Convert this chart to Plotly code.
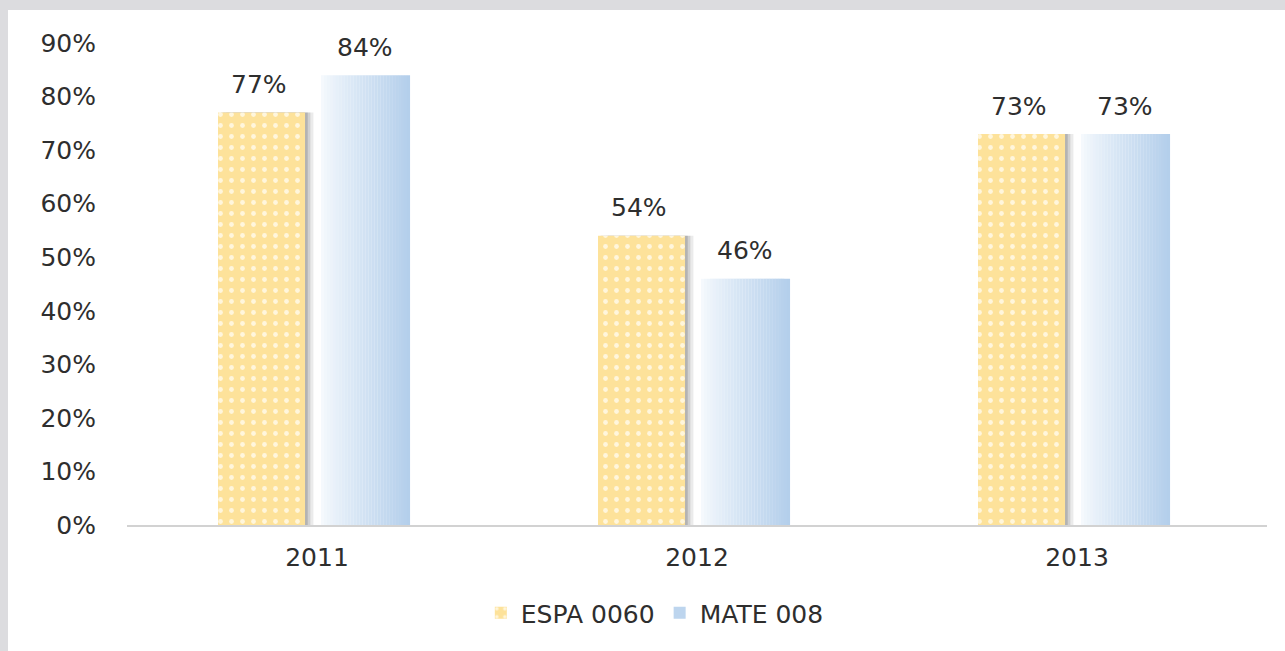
import plotly.graph_objects as go

categories = ["2011", "2012", "2013"]
espa_values = [77, 54, 73]
mate_values = [84, 46, 73]
series_names = ["ESPA 0060", "MATE 008"]
y_ticks = [0, 10, 20, 30, 40, 50, 60, 70, 80, 90]
y_tick_labels = [f"{v}%" for v in y_ticks]

FONT = "DejaVu Sans"
TXT = "#2e2e2e"
FS = 25
W, H = 1285, 651
L, R, T, B = 127, 18, 43, 126

# bar geometry in category units
y_off, y_w = -0.2605, 0.229
b_off, b_w = 0.0105, 0.234

def hex2rgb(h):
    h = h.lstrip("#")
    return tuple(int(h[i:i + 2], 16) for i in (0, 2, 4))

def lerp(c1, c2, t):
    a, b = hex2rgb(c1), hex2rgb(c2)
    return "rgb(%d,%d,%d)" % tuple(round(a[i] + (b[i] - a[i]) * t) for i in range(3))

fig = go.Figure()

# soft shadow to the right of the yellow bars
for dx, alpha in [(0.022, 0.12), (0.014, 0.18), (0.007, 0.25)]:
    fig.add_trace(go.Bar(
        x=categories, y=espa_values, offset=y_off + dx, width=y_w,
        marker=dict(color=f"rgba(90,90,90,{alpha})", line=dict(width=0)),
        showlegend=False, hoverinfo="skip"))

# yellow dotted bars
fig.add_trace(go.Bar(
    x=categories, y=espa_values, name=series_names[0], offset=y_off, width=y_w,
    marker=dict(color="#fde29a", line=dict(width=0),
                pattern=dict(shape=".", fgcolor="#fff6dc", bgcolor="#fde29a",
                             size=11, solidity=0.15, fillmode="replace")),
    hoverinfo="x+y"))

# blue gradient bars (built from slices)
n = 30
sw = b_w / n
for i in range(n):
    t = i / (n - 1)
    col = lerp("#f5f9fd", "#b4cfeb", t ** 0.85)
    fig.add_trace(go.Bar(
        x=categories, y=mate_values, name=series_names[1],
        offset=b_off + i * sw, width=sw * 1.05,
        marker=dict(color=col, line=dict(width=0)),
        showlegend=False, legendgroup="mate", hoverinfo="skip"))

# legend entry for the blue series
fig.add_trace(go.Bar(
    x=[None], y=[None], name=series_names[1],
    marker=dict(color="#bdd5ee", line=dict(width=0)), legendgroup="mate"))

# value labels
for i, v in enumerate(espa_values):
    fig.add_annotation(x=i, y=v, text=f"{v}%", showarrow=False,
                       xshift=(y_off + y_w / 2) * 380 - 3, yshift=28,
                       font=dict(family=FONT, size=FS, color=TXT))
for i, v in enumerate(mate_values):
    fig.add_annotation(x=i, y=v, text=f"{v}%", showarrow=False,
                       xshift=(b_off + b_w / 2) * 380, yshift=28,
                       font=dict(family=FONT, size=FS, color=TXT))

# frame: gray background bands at top and left
px_x = lambda p: (p - L) / (W - L - R)
px_y = lambda p: (H - B - p) / (H - T - B)
fig.add_shape(type="rect", xref="paper", yref="paper",
              x0=px_x(8), x1=px_x(W + 5), y0=px_y(H + 5), y1=px_y(10),
              fillcolor="white", line=dict(width=0), layer="below")

fig.update_layout(
    width=W, height=H,
    margin=dict(l=L, r=R, t=T, b=B),
    paper_bgcolor="#dcdcdf",
    plot_bgcolor="rgba(0,0,0,0)",
    barmode="overlay",
    font=dict(family=FONT, size=FS, color=TXT),
    showlegend=True,
    legend=dict(orientation="h", x=0.463, xanchor="center", y=px_y(613), yanchor="middle",
                font=dict(family=FONT, size=FS, color=TXT), itemsizing="constant",
                bgcolor="rgba(0,0,0,0)", traceorder="normal"),
    xaxis=dict(type="category", categoryorder="array", categoryarray=categories,
               range=[-0.5, 2.5], showline=True, linecolor="#d2d2d2", linewidth=2,
               showgrid=False, ticks="", ticklabelstandoff=9,
               tickfont=dict(family=FONT, size=FS, color=TXT), fixedrange=True),
    yaxis=dict(range=[0, 90], tickvals=y_ticks, ticktext=y_tick_labels,
               showgrid=False, zeroline=False, showline=False, ticks="",
               ticklabelstandoff=30,
               tickfont=dict(family=FONT, size=FS, color=TXT), fixedrange=True),
)

fig.write_html("out.html", config={"displayModeBar": False},
               post_script="document.body.style.margin='0';document.body.style.padding='0';")
